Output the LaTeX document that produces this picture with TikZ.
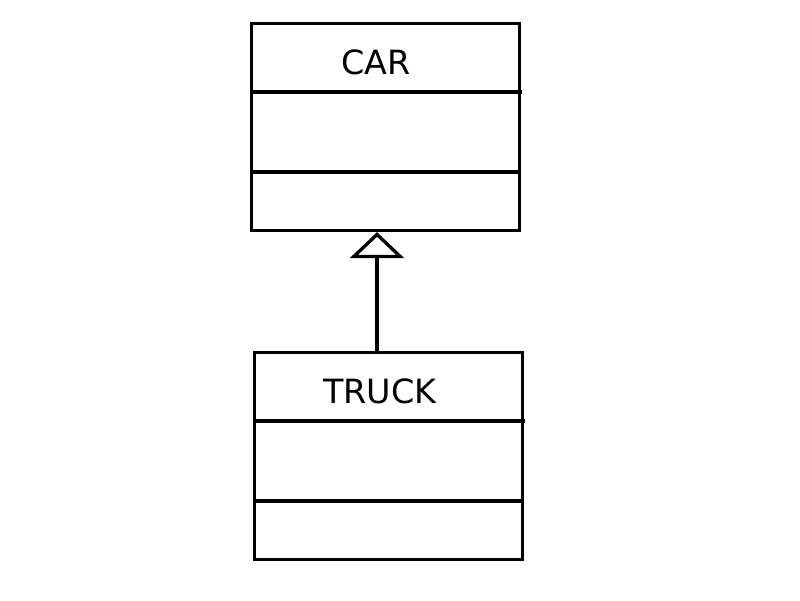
\documentclass[tikz,border=0pt]{standalone}
\usepackage{fontspec}
\setmainfont{DejaVu Sans}
\usetikzlibrary{positioning, arrows.meta}

\tikzset{
  classbox/.style={draw, line width=1.9pt, minimum width=5.36cm, minimum height=4.14cm, inner sep=0pt},
  classname/.style={font=\fontsize{19}{21}\selectfont, inner sep=0pt},
  divider/.style={line width=1.9pt},
  inherit/.style={line width=1.9pt, -{Triangle[open, width=1.08cm, length=0.52cm]}}
}

\begin{document}
\begin{tikzpicture}[x=0.02cm, y=-0.02cm]
  \useasboundingbox (0,0) rectangle (800,600);
  \begin{scope}
   \node[classbox] (car) at (385.5,127) {};
   \node[classname] (carname) at (376,62) {CAR};
   \draw[divider] (251,92) -- (522,92);
   \draw[divider] (251,172) -- (520,172);
  \end{scope}
  \begin{scope}
   \node[classbox] (truck) at (388.5,456) {};
   \node[classname] (truckname) at (380,391) {TRUCK};
   \draw[divider] (254,421) -- (525,421);
   \draw[divider] (254,501) -- (523,501);
  \end{scope}
  \coordinate (tail) at (377,352);
  \draw[inherit] (tail) -- (car.south -| tail);
\end{tikzpicture}
\end{document}
